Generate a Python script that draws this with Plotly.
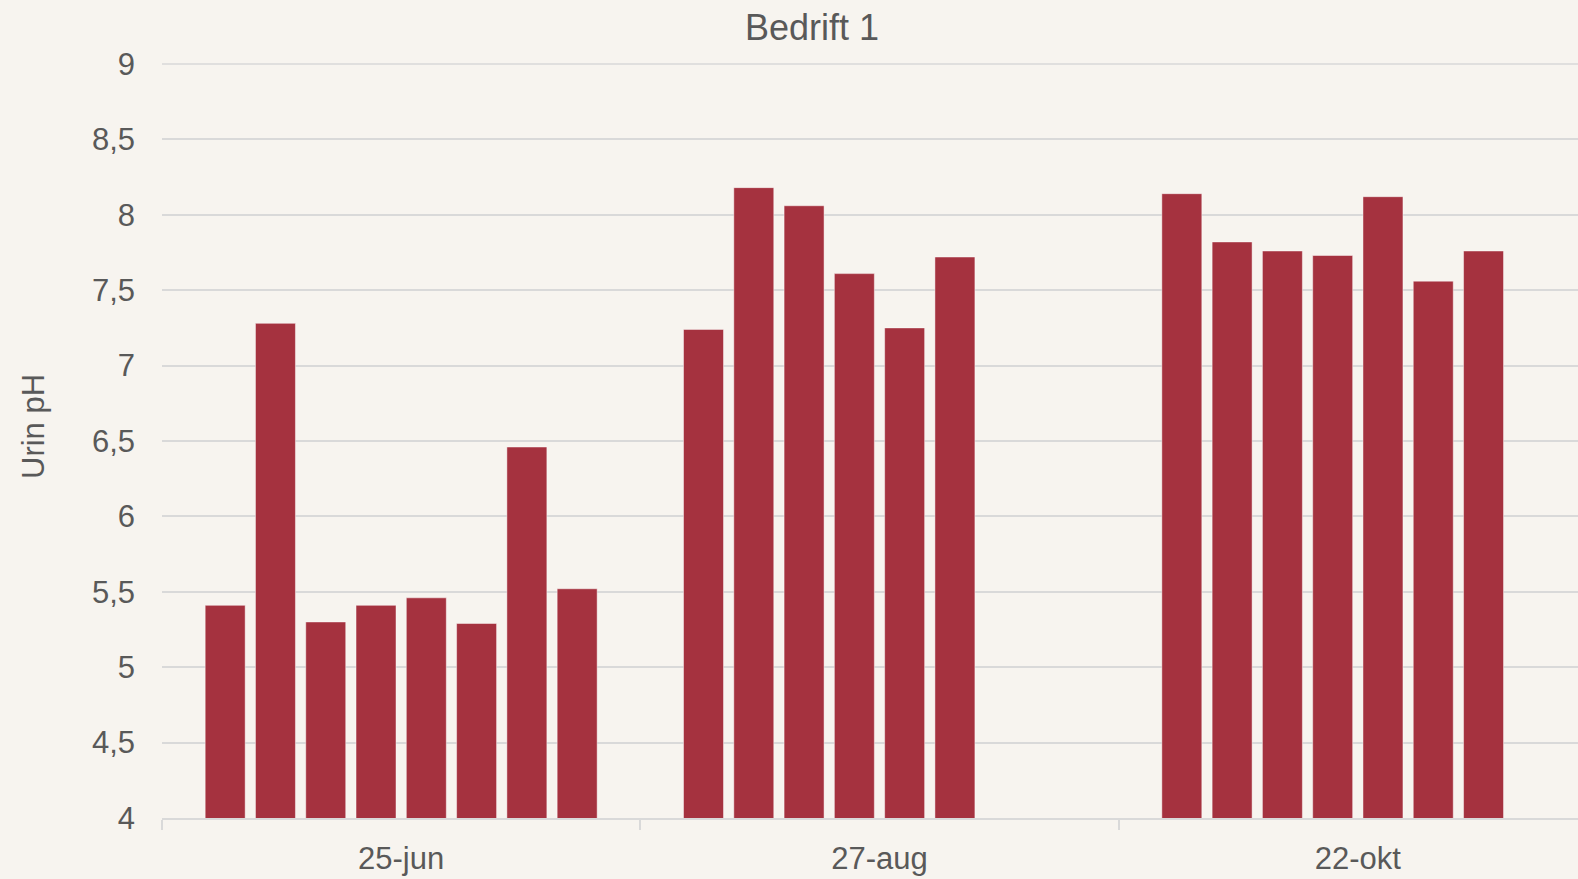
import plotly.graph_objects as go

# ---- data ----
categories = ["25-jun", "27-aug", "22-okt"]
ph_25_jun = [5.41, 7.28, 5.30, 5.41, 5.46, 5.29, 6.46, 5.52]
ph_27_aug = [7.24, 8.18, 8.06, 7.61, 7.25, 7.72]
ph_22_okt = [8.14, 7.82, 7.76, 7.73, 8.12, 7.56, 7.76]
y_ticks = [4, 4.5, 5, 5.5, 6, 6.5, 7, 7.5, 8, 8.5, 9]
y_tick_text = ["4", "4,5", "5", "5,5", "6", "6,5", "7", "7,5", "8", "8,5", "9"]

title_text = "Bedrift 1"
y_title = "Urin pH"

BAR = "#A5323F"
BG = "#F7F4EF"
TXT = "#595959"
GRID = "#D9D9D9"
FONT = "Liberation Sans, Arial, sans-serif"

groups = [ph_25_jun, ph_27_aug, ph_22_okt]
n_series = max(len(g) for g in groups)

fig = go.Figure()
for i in range(n_series):
    vals = [g[i] if i < len(g) else None for g in groups]
    fig.add_trace(go.Bar(
        x=categories, y=vals,
        marker=dict(color=BAR, line=dict(color="rgba(255,255,255,0.45)", width=1)),
        showlegend=False,
    ))

W, H = 1578, 879
L, T, B = 162, 63, 61
Y_TOP = 9.0066
fig.update_layout(
    width=W, height=H,
    paper_bgcolor=BG, plot_bgcolor=BG,
    margin=dict(l=L, r=0, t=T, b=B),
    barmode="group", bargap=0.159, bargroupgap=0.205,
    font=dict(family=FONT, color=TXT, size=31),
    showlegend=False,
)
fig.update_xaxes(
    type="category",
    range=[-0.5, 2.4603],
    showgrid=False, zeroline=False,
    showline=True, linecolor=GRID, linewidth=1.5,
    ticks="outside", tickson="boundaries", ticklen=10, tickcolor=GRID, tickwidth=1.5,
    tickfont=dict(size=31, color=TXT, family=FONT),
    ticklabelstandoff=12,
)
fig.update_yaxes(
    range=[4, Y_TOP],
    tickvals=y_ticks, ticktext=y_tick_text,
    showgrid=True, gridcolor=GRID, gridwidth=1.5,
    zeroline=False, showline=False, ticks="",
    tickfont=dict(size=31, color=TXT, family=FONT),
    ticklabelstandoff=26,
)
# top gridline (plotly drops the grid line at the range edge)
fig.add_shape(type="line", xref="paper", yref="y", x0=0, x1=1,
              y0=y_ticks[-1], y1=y_ticks[-1], line=dict(color=GRID, width=1.5), layer="below")
plot_h = H - T - B
fig.add_annotation(
    text=title_text, xref="paper", yref="paper",
    x=(811.6 - L) / (W - L), y=1, yshift=T - 27, xanchor="center", yanchor="middle",
    showarrow=False, font=dict(size=36, color=TXT, family=FONT),
)
fig.add_annotation(
    text=y_title, xref="paper", yref="paper",
    x=0, xshift=33 - L, y=(H - B - 427) / plot_h, textangle=-90,
    xanchor="center", yanchor="middle",
    showarrow=False, font=dict(size=31, color=TXT, family=FONT),
)

fig.write_html("out.html", config={"displayModeBar": False},
               post_script="document.body.style.margin='0';document.body.style.overflow='hidden';")
